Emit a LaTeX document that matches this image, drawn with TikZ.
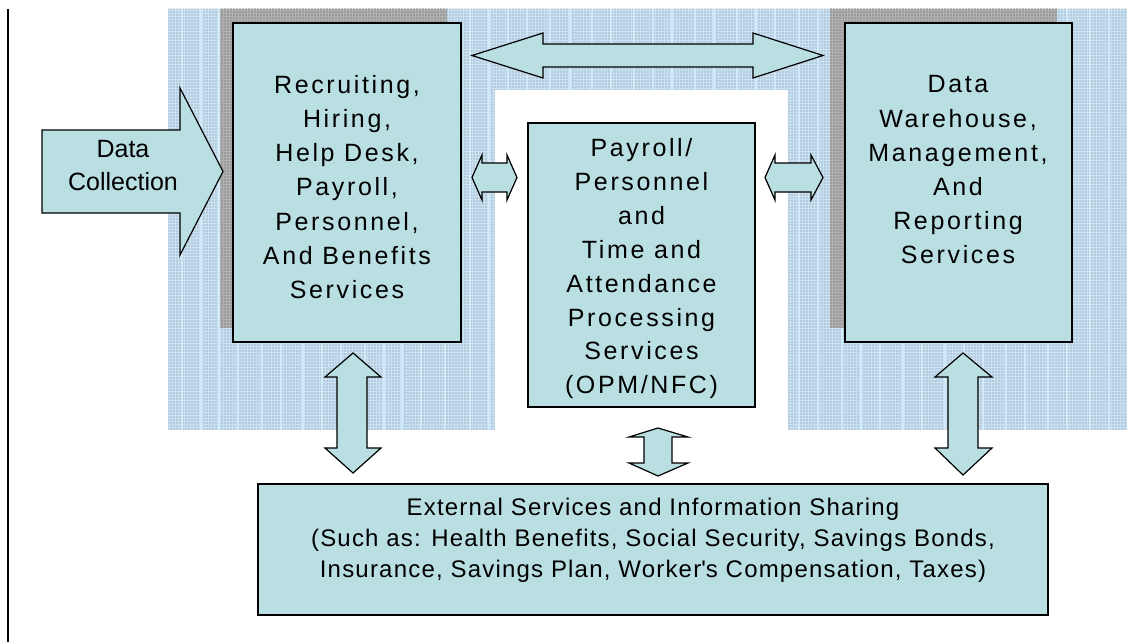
\documentclass[tikz,border=0pt]{standalone}
\usepackage{fontspec}
\setmainfont{Liberation Sans}[LetterSpace=5]
\newfontfamily\widefont{Liberation Sans}[LetterSpace=10.5]
\newfontfamily\plainfont{Liberation Sans}[LetterSpace=0]
\usetikzlibrary{patterns,patterns.meta}
\definecolor{boxfill}{RGB}{186,223,227}
\definecolor{bgblue}{RGB}{200,225,243}
\definecolor{stripeblue}{RGB}{208,234,250}
\definecolor{dotgray}{RGB}{120,128,140}
\definecolor{shadowgray}{RGB}{176,176,176}
\tikzset{
  box/.style={draw=black, line width=1.3pt, fill=boxfill, anchor=north west, inner sep=0pt, outer sep=0pt},
  blockarrow/.style={draw=black, line width=1.2pt, fill=boxfill, line join=miter},
  txt/.style={align=center, inner sep=0pt, font=\widefont\fontsize{25}{34.2}\selectfont},
  bgpat/.style={pattern={Dots[distance=3pt, radius=0.7pt]}, pattern color=dotgray},
  shpat/.style={pattern={Dots[distance=3pt, radius=0.7pt]}, pattern color=gray!70!black},
}
\begin{document}
\begin{tikzpicture}[x=1pt,y=-1pt]
\useasboundingbox (0,0) rectangle (1145,642);
% background band
\fill[bgblue] (168,9) rectangle (1127,430);
\fill[bgpat] (168,9) rectangle (1127,430);
\foreach \sx in {182,201,219,238,262,281,303,322,341,365,384,402,421,445,470,489,508,527,550,570,592,611,634,653,672,695,714,737,756,775,799,818,842,861,880,903,922,945,964,983,1006,1025,1048,1067,1090,1109}
  \draw[stripeblue, line width=1.3pt] (\sx,9) -- (\sx,430);
\fill[shadowgray] (220,9) rectangle (447,328);
\fill[shadowgray] (830,9) rectangle (1057,328);
\fill[shpat] (220,9) rectangle (447,328);
\fill[shpat] (830,9) rectangle (1057,328);
\fill[white] (495,90) rectangle (788,430);
% left rule
\draw[line width=2pt] (8,9) -- (8,642);
% boxes
\node[box, minimum width=228pt, minimum height=319pt] (hr) at (233,23) {};
\node[box, minimum width=227pt, minimum height=284pt] (pay) at (528,123) {};
\node[box, minimum width=227pt, minimum height=319pt] (dw) at (845,23) {};
\node[box, minimum width=790pt, minimum height=131pt] (ext) at (258,484) {};
% arrows
\draw[blockarrow] (42,130) -- (180,130) -- (180,88) -- (223,171.5) -- (180,255) -- (180,213) -- (42,213) -- cycle;
\draw[blockarrow] (472,55.5) -- (543,33) -- (543,44) -- (753,44) -- (753,33) -- (823,55.5) -- (753,78) -- (753,67) -- (543,67) -- (543,78) -- cycle;
\draw[blockarrow] (472,177.5) -- (482,155) -- (482,163) -- (507,163) -- (507,155) -- (517,177.5) -- (507,200) -- (507,192) -- (482,192) -- (482,200) -- cycle;
\draw[blockarrow] (765,177.5) -- (775,155) -- (775,163) -- (811,163) -- (811,155) -- (823,177.5) -- (811,200) -- (811,192) -- (775,192) -- (775,200) -- cycle;
\draw[blockarrow] (353,353) -- (381,377) -- (367,377) -- (367,448) -- (381,448) -- (353,473) -- (325,448) -- (337,448) -- (337,377) -- (325,377) -- cycle;
\draw[blockarrow] (658,428) -- (688,437) -- (672,437) -- (672,463) -- (688,463) -- (658,476) -- (629,463) -- (644,463) -- (644,437) -- (629,437) -- cycle;
\draw[blockarrow] (963,353) -- (992,377) -- (978,377) -- (978,448) -- (992,448) -- (963,475) -- (935,448) -- (948,448) -- (948,377) -- (935,377) -- cycle;
% texts
\node[txt] (hrt) at (347,187) {Recruiting,\\Hiring,\\Help Desk,\\Payroll,\\Personnel,\\And Benefits\\Services};
\node[txt, font=\plainfont\fontsize{25}{33}\selectfont] (dct) at (123,165.5) {Data\\Collection};
\node[txt, font=\widefont\fontsize{25}{33.9}\selectfont] (payt) at (641.5,268.7) {Payroll/\\Personnel\\and\\Time and\\Attendance\\Processing\\Services\\(OPM/NFC)};
\node[txt] (dwt) at (958,170) {Data\\Warehouse,\\Management,\\And\\Reporting\\Services};
\node[txt, font=\rmfamily\fontsize{24}{31}\selectfont] (extt) at (653,540) {External Services and Information Sharing\\(Such as: Health Benefits, Social Security, Savings Bonds,\\Insurance, Savings Plan, Worker\textquotesingle s Compensation, Taxes)};
\end{tikzpicture}
\end{document}
